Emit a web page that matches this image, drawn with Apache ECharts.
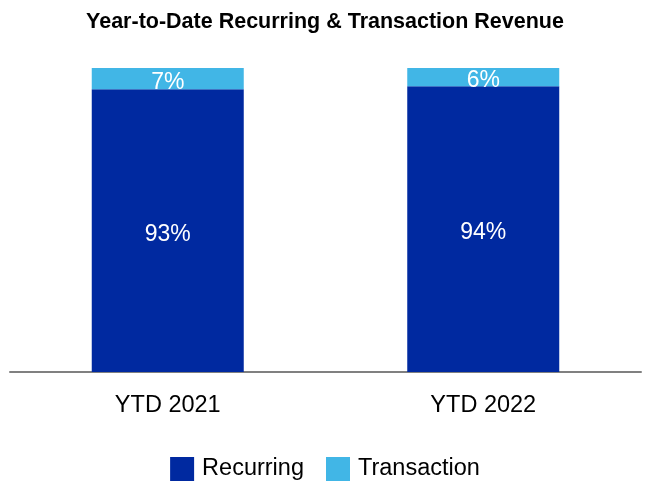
<!DOCTYPE html>
<html><head><meta charset="utf-8">
<script src="https://cdn.jsdelivr.net/npm/echarts@6/dist/echarts.min.js"></script>
<style>html,body{margin:0;padding:0;background:#fff}#c{width:650px;height:500px}</style>
</head><body><div id="c"></div>
<script>
var categories = ['YTD 2021', 'YTD 2022'];
var recurring = [93, 94];
var transaction = [7, 6];
var chart = echarts.init(document.getElementById('c'));
var lbl = {show: true, position: 'inside', offset: [0, 4], color: '#fff', fontSize: 23, fontFamily: 'Liberation Sans', formatter: '{c}%'};
chart.setOption({
  animation: false,
  title: {text: 'Year-to-Date Recurring & Transaction Revenue', left: 'center', top: 6,
    textStyle: {fontFamily: 'Liberation Sans', fontWeight: 'bold', fontSize: 21.5, color: '#000'}},
  grid: {left: 10, right: 9, top: 68, bottom: 128, containLabel: false},
  legend: {bottom: 14, left: 'center', itemWidth: 24, itemHeight: 24, itemGap: 22, icon: 'rect',
    textStyle: {fontFamily: 'Liberation Sans', fontSize: 23.5, color: '#000', padding: [0,0,0,3]},
    data: ['Recurring', 'Transaction']},
  xAxis: {type: 'category', data: categories,
    axisLine: {lineStyle: {color: '#808080', width: 2}}, axisTick: {show: false},
    axisLabel: {fontFamily: 'Liberation Sans', fontSize: 23.5, color: '#000', margin: 22}},
  yAxis: {type: 'value', min: 0, max: 100, show: false},
  series: [
    {name: 'Recurring', type: 'bar', stack: 's', data: recurring, barWidth: 152,
      itemStyle: {color: '#0029A0'}, label: lbl},
    {name: 'Transaction', type: 'bar', stack: 's', data: transaction, barWidth: 152,
      itemStyle: {color: '#41B6E6'}, label: lbl}
  ]
});
</script></body></html>
